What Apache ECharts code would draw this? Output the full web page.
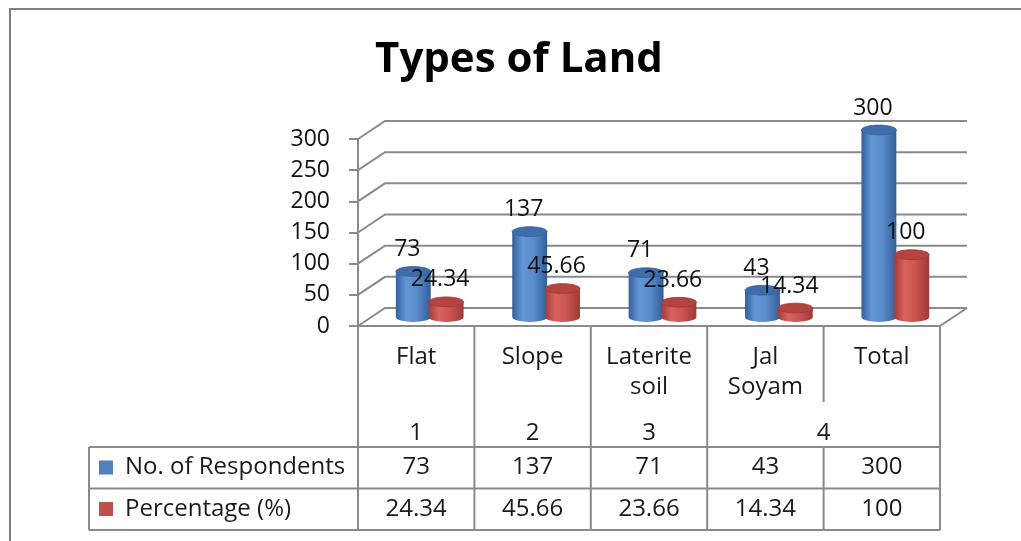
<!DOCTYPE html>
<html>
<head>
<meta charset="utf-8">
<script src="https://cdn.jsdelivr.net/npm/echarts@6/dist/echarts.min.js"></script>
<style>
  html, body { margin: 0; padding: 0; background: #ffffff; }
  #chart { width: 1021px; height: 541px; }
</style>
</head>
<body>
<div id="chart"></div>
<script>
// ---- data ----
const categories = ['Flat', 'Slope', 'Laterite\nsoil', 'Jal\nSoyam', 'Total'];
const groupLabels = ['1', '2', '3', '4'];
const groupSpans = [1, 1, 1, 2];
const seriesNames = ['No. of Respondents', 'Percentage (%)'];
const respondents = [73, 137, 71, 43, 300];
const percentage = [24.34, 45.66, 23.66, 14.34, 100];
const yTicks = [0, 50, 100, 150, 200, 250, 300];

// ---- styling ----
const FONT = '"Open Sans", "Noto Sans", sans-serif';
const LINE = '#8a8a8a';
const DX = 27, DY = -18;            // depth offset of the back wall
const KEY_COLORS = ['#4f81bd', '#c0504d'];
const BAR_STYLE = [
  { side: ['#34609a', '#6496d6', '#5a8bcb', '#33609a'], top: '#3f6dab', edge: '#33609a' },
  { side: ['#a33c39', '#d9625f', '#cc5451', '#a03835'], top: '#b5433f', edge: '#9c3633' }
];

const chart = echarts.init(document.getElementById('chart'), null, { renderer: 'canvas' });

// back wall + left wall gridlines, one polyline per tick value
function renderWall(params, api) {
  const cs = params.coordSys;
  const v = api.value(1);
  const y = api.coord([0, v])[1];
  const x0 = cs.x, x1 = cs.x + cs.width;
  const children = [{
    type: 'polyline',
    shape: { points: [[x0, y], [x0 + DX, y + DY], [x1 + DX, y + DY]] },
    style: { stroke: LINE, lineWidth: 2, fill: null }
  }];
  if (v === 0) {
    children.push({
      type: 'line',
      shape: { x1: x1, y1: y, x2: x1 + DX, y2: y + DY },
      style: { stroke: LINE, lineWidth: 2 }
    });
  }
  return { type: 'group', children: children };
}

// cylinder for one series value
function cylinderRenderer(sIdx) {
  return function (params, api) {
    const i = api.value(0), v = api.value(1);
    const base = api.coord([i, 0]);
    const top = api.coord([i, v]);
    const band = api.size([1, 0])[0];
    const W = band * 0.3;
    const rx = W / 2, ry = W * 0.14;
    const cx = base[0] + DX / 2 + (sIdx === 0 ? -1 : 1) * W * 0.47;
    const by = base[1] + DY / 2, ty = top[1] + DY / 2;
    const st = BAR_STYLE[sIdx];
    const grad = new echarts.graphic.LinearGradient(0, 0, 1, 0, [
      { offset: 0, color: st.side[0] },
      { offset: 0.3, color: st.side[1] },
      { offset: 0.6, color: st.side[2] },
      { offset: 1, color: st.side[3] }
    ]);
    const body = 'M' + (cx - rx) + ' ' + ty + ' L' + (cx - rx) + ' ' + by +
      ' A' + rx + ' ' + ry + ' 0 0 0 ' + (cx + rx) + ' ' + by +
      ' L' + (cx + rx) + ' ' + ty + ' Z';
    return {
      type: 'group',
      children: [
        { type: 'path', shape: { pathData: body }, style: { fill: grad } },
        { type: 'ellipse', shape: { cx: cx, cy: ty, rx: rx, ry: ry },
          style: { fill: st.top, stroke: st.edge, lineWidth: 0.8 } },
        { type: 'text', z2: 100,
          style: { x: cx - 6, y: ty - 22, text: String(v), font: '23px ' + FONT,
                   fill: '#111', align: 'center', verticalAlign: 'middle' } }
      ]
    };
  };
}

// data table below the plot, one column per category
const groupStart = {};
(function () {
  let k = 0;
  groupLabels.forEach(function (g, gi) { groupStart[k] = gi; k += groupSpans[gi]; });
})();

function renderTable(params, api) {
  const cs = params.coordSys;
  const i = api.value(0);
  const band = api.size([1, 0])[0];
  const cx = api.coord([i, 0])[0];
  const xl = cx - band / 2, xr = cx + band / 2;
  const top = cs.y + cs.height;
  const hBot = top + 121, r1 = hBot + 41.5, r2 = r1 + 41.5;
  const ls = { stroke: LINE, lineWidth: 2 };
  const tf = '24px ' + FONT;
  const ch = [];
  const hl = function (x1, x2, y) { ch.push({ type: 'line', shape: { x1: x1, y1: y, x2: x2, y2: y }, style: ls }); };
  const vl = function (x, y1, y2) { ch.push({ type: 'line', shape: { x1: x, y1: y1, x2: x, y2: y2 }, style: ls }); };
  const txt = function (x, y, s, align) {
    ch.push({ type: 'text', style: { x: x, y: y, text: s, font: tf, fill: '#1a1a1a',
      align: align || 'center', verticalAlign: 'middle', lineHeight: 30 } });
  };

  hl(xl, xr, top); hl(xl, xr, hBot); hl(xl, xr, r1); hl(xl, xr, r2);
  const isStart = groupStart[i] !== undefined;
  vl(xl, top, isStart ? hBot : top + 76);
  vl(xl, hBot, r2);
  if (i === categories.length - 1) vl(xr, top, r2);

  // category name (may be two lines)
  categories[i].split('\n').forEach(function (s, li) { txt(cx, top + 31 + li * 30, s); });
  // group number spanning one or more columns
  if (isStart) {
    const gi = groupStart[i];
    txt(xl + groupSpans[gi] * band / 2, hBot - 14, groupLabels[gi]);
  }
  txt(cx, hBot + 20.5, String(api.value(1)));
  txt(cx, r1 + 20.5, String(api.value(2)));

  // legend keys in the row headers
  if (i === 0) {
    const lx = 89;
    hl(lx, xl, hBot); hl(lx, xl, r1); hl(lx, xl, r2);
    vl(lx, hBot, r2);
    [hBot, r1].forEach(function (ry, si) {
      ch.push({ type: 'rect', shape: { x: lx + 10, y: ry + 13.5, width: 14, height: 14 },
        style: { fill: KEY_COLORS[si] } });
      txt(lx + 36, ry + 20.5, seriesNames[si], 'left');
    });
  }
  return { type: 'group', children: ch };
}

const option = {
  animation: false,
  backgroundColor: '#ffffff',
  graphic: [
    { type: 'polyline', shape: { points: [[10, 541], [10, 9], [1021, 9]] },
      style: { stroke: '#808080', lineWidth: 2, fill: null }, z: 0 },
    { type: 'text', x: 519, y: 60,
      style: { text: 'Types of Land', font: 'bold 42px ' + FONT, fill: '#000',
               align: 'center', verticalAlign: 'middle' } }
  ],
  grid: { left: 358, top: 139, width: 582, height: 187, containLabel: false },
  xAxis: {
    type: 'category', data: categories, boundaryGap: true,
    axisLine: { show: false }, axisTick: { show: false }, axisLabel: { show: false },
    splitLine: { show: false }
  },
  yAxis: {
    type: 'value', min: yTicks[0], max: yTicks[yTicks.length - 1], interval: yTicks[1] - yTicks[0],
    axisLine: { show: true, lineStyle: { color: LINE, width: 2 } },
    axisTick: { show: true, length: 9, lineStyle: { color: LINE, width: 2 } },
    axisLabel: { margin: 28, fontSize: 23, fontFamily: FONT, color: '#111' },
    splitLine: { show: false }
  },
  series: [
    { type: 'custom', name: 'wall', clip: false, z: 1, silent: true,
      data: yTicks.map(function (v) { return [0, v]; }),
      encode: { x: 0, y: 1 }, renderItem: renderWall },
    { type: 'custom', name: seriesNames[0], clip: false, z: 2,
      data: respondents.map(function (v, i) { return [i, v]; }),
      encode: { x: 0, y: 1 }, renderItem: cylinderRenderer(0) },
    { type: 'custom', name: seriesNames[1], clip: false, z: 2,
      data: percentage.map(function (v, i) { return [i, v]; }),
      encode: { x: 0, y: 1 }, renderItem: cylinderRenderer(1) },
    { type: 'custom', name: 'table', clip: false, z: 3, silent: true,
      data: categories.map(function (c, i) { return [i, respondents[i], percentage[i]]; }),
      encode: { x: 0, y: 1 }, renderItem: renderTable }
  ]
};

chart.setOption(option);
</script>
</body>
</html>
